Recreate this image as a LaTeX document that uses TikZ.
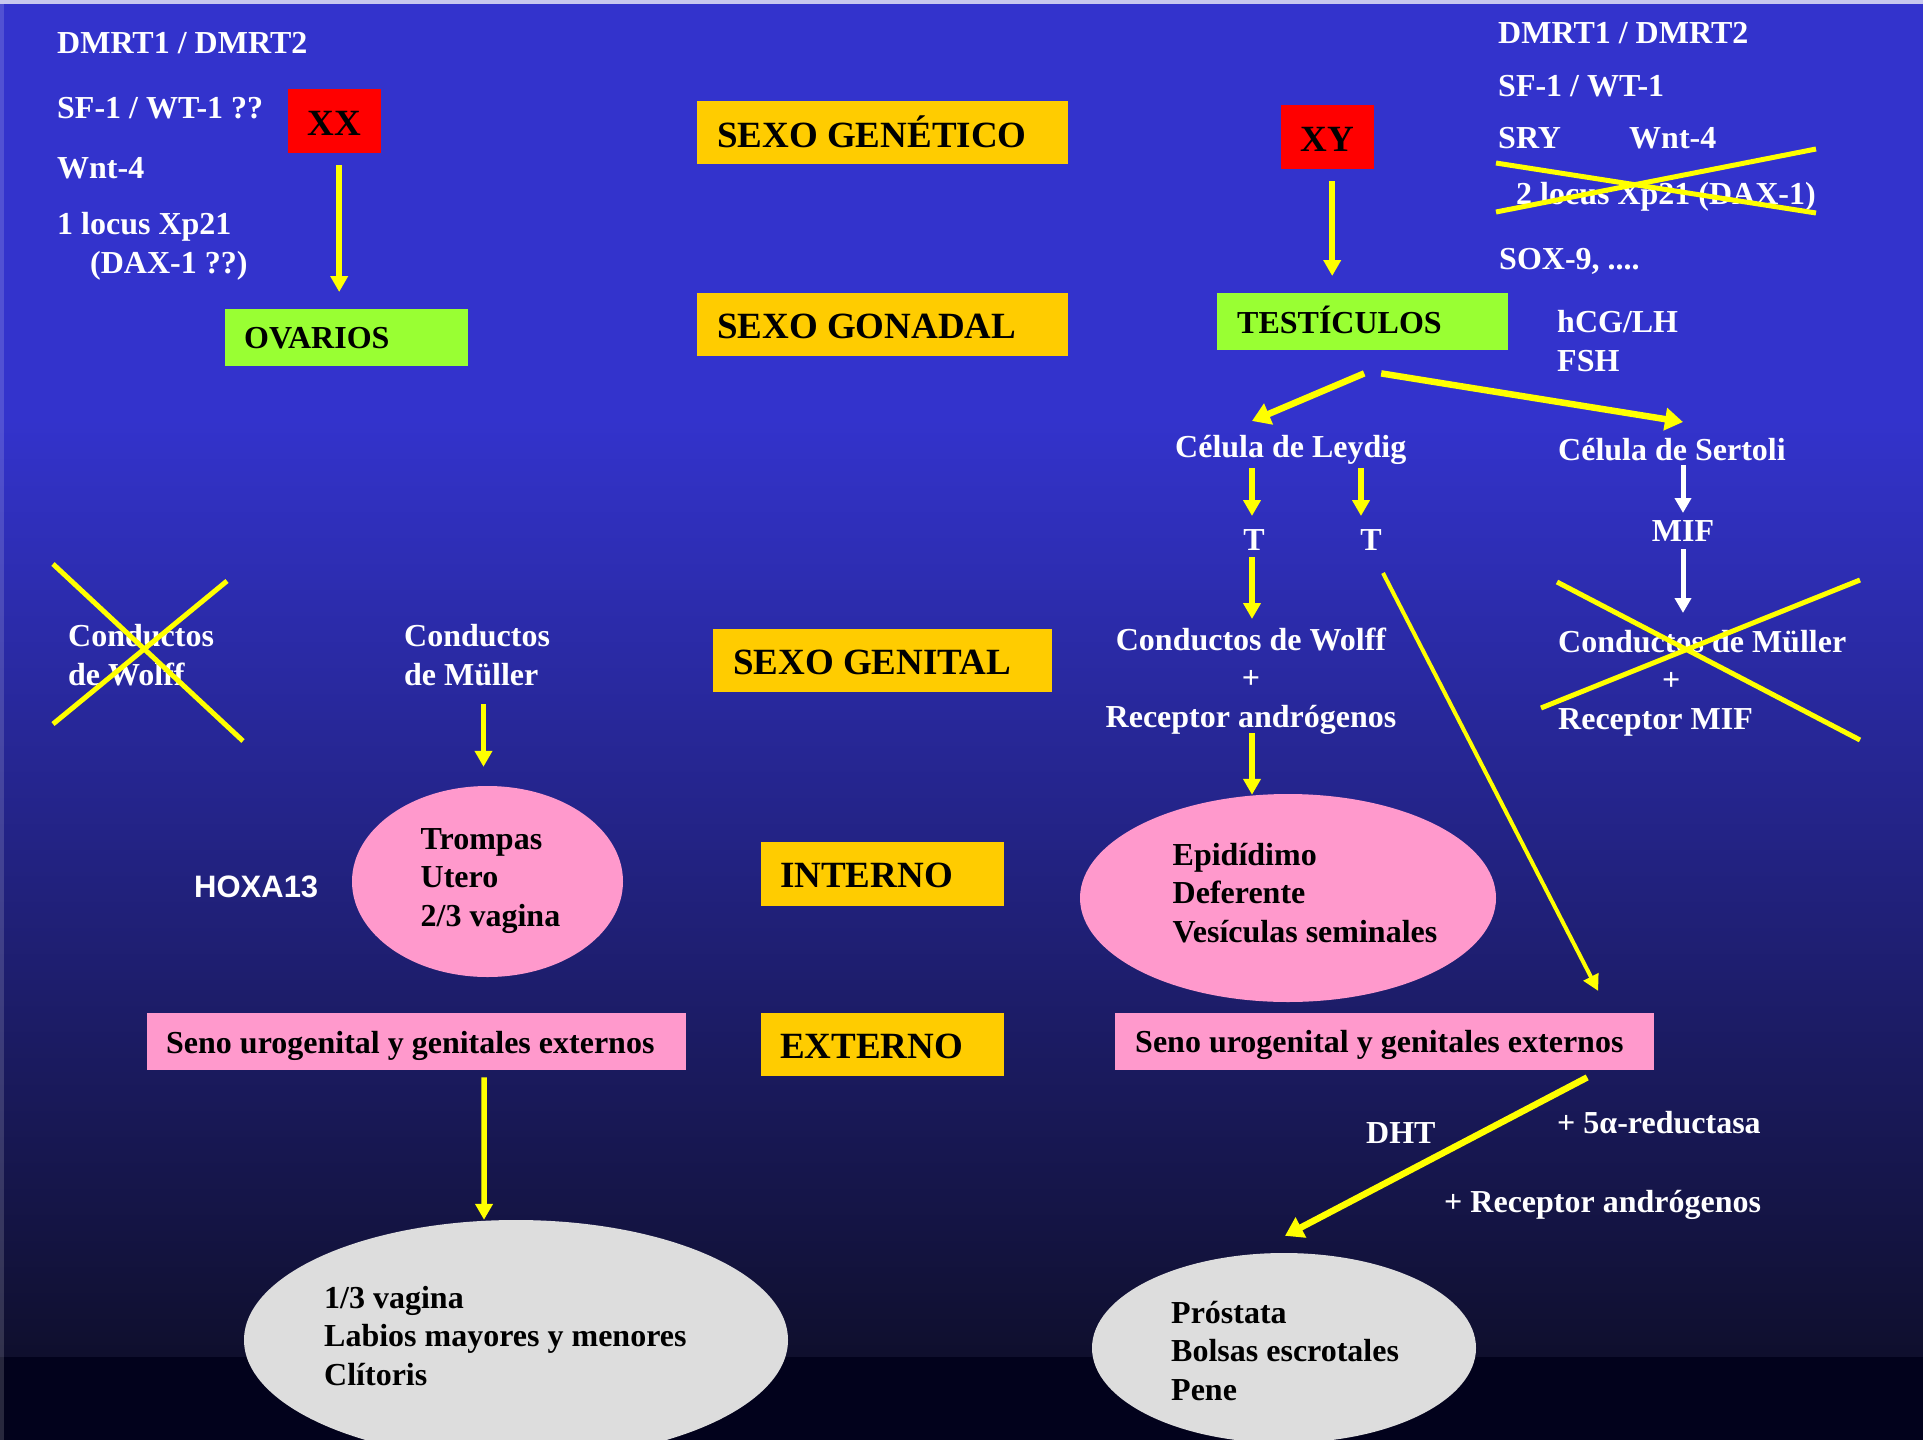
\documentclass[tikz,border=0pt]{standalone}
\usepackage{fontspec}
\setmainfont{Liberation Serif}
\newfontfamily\sansfont{Liberation Sans}
\usetikzlibrary{arrows.meta,shapes.geometric}
\definecolor{bgtop}{HTML}{3333CC}
\definecolor{bgmid}{HTML}{0F0F2D}
\definecolor{bgbot}{HTML}{02021C}
\definecolor{lav}{HTML}{C8C8EE}
\definecolor{ylw}{HTML}{FFCC00}
\definecolor{grn}{HTML}{99FF33}
\definecolor{pnk}{HTML}{FF99CC}
\definecolor{gry}{HTML}{DDDDDD}
\definecolor{arrowyellow}{HTML}{FFFF00}
\begin{document}
\begin{tikzpicture}[x=1pt,y=-1pt,
  bfont/.style={font=\fontsize{32}{38.5}\selectfont\bfseries},
  yfont/.style={font=\fontsize{37}{42}\selectfont\bfseries},
  tbox/.style n args={4}{anchor=north west, inner xsep=#1pt, inner ysep=0pt,
     text width=#2pt, text height=#3pt, text depth=#4pt, align=flush left, text=black},
  wt/.style={bfont, text=white, inner sep=0pt, anchor=base west},
  bt/.style={bfont, text=black, inner sep=0pt, anchor=base west},
  ell/.style={ellipse, inner sep=0pt, draw=none},
  arr/.style={draw=arrowyellow, line width=5.5pt, -{Triangle[width=17pt,length=16pt]}},
  arrthick/.style={draw=arrowyellow, line width=6.5pt, -{Triangle[width=22pt,length=18pt]}},
  arrthin/.style={draw=arrowyellow, line width=4pt, -{Triangle[width=16pt,length=16pt]}},
  warr/.style={draw=white, line width=5pt, -{Triangle[width=16pt,length=15pt]}},
  strike/.style={draw=arrowyellow, line width=5pt}]
\clip (0,0) rectangle (1923,1440);
% background
\fill[bgtop] (0,0) rectangle (1923,421);
\fill[top color=bgtop,bottom color=bgmid] (0,420) rectangle (1923,1357.5);
\fill[bgbot] (0,1357) rectangle (1923,1440);
\fill[lav] (0,0) rectangle (1923,4);
\fill[white,opacity=0.15] (0,4) rectangle (4,1440);

% boxes
\node[tbox={0}{93}{46}{18}, fill=red, align=center, yfont] (xx) at (288,89) {XX};
\node[tbox={19}{205}{39}{18}, fill=grn, bfont] (ovarios) at (225,309) {OVARIOS};
\node[tbox={20}{331}{46}{17}, fill=ylw, yfont] (genetico) at (697,101) {SEXO GENÉTICO};
\node[tbox={20}{331}{45}{18}, fill=ylw, yfont] (gonadal) at (697,293) {SEXO GONADAL};
\node[tbox={20}{299}{45}{18}, fill=ylw, yfont] (genital) at (713,629) {SEXO GENITAL};
\node[tbox={19}{205}{45}{19}, fill=ylw, yfont] (interno) at (761,842) {INTERNO};
\node[tbox={19}{205}{45}{18}, fill=ylw, yfont] (externo) at (761,1013) {EXTERNO};
\node[tbox={0}{93}{46}{18}, fill=red, align=center, yfont] (xy) at (1281,105) {XY};
\node[tbox={20}{251}{40}{17}, fill=grn, bfont] (testiculos) at (1217,293) {TESTÍCULOS};
\node[tbox={19}{501}{40}{17}, fill=pnk, bfont] (senoL) at (147,1013) {Seno urogenital y genitales externos};
\node[tbox={20}{499}{39}{18}, fill=pnk, bfont] (senoR) at (1115,1013) {Seno urogenital y genitales externos};

% ellipses
\node[ell, fill=pnk, minimum width=271pt, minimum height=191pt] (trompas) at (487.5,881.5) {};
\node[ell, fill=pnk, minimum width=416pt, minimum height=208pt] (epid) at (1288,898) {};
\node[ell, fill=gry, minimum width=544pt, minimum height=240pt] (greyL) at (516,1340) {};
\node[ell, fill=gry, minimum width=384pt, minimum height=190pt] (prost) at (1284,1348) {};
\node[bt, align=flush left] (trompasT) at (420.5,926) {Trompas\\Utero\\2/3 vagina};
\node[bt, align=flush left] (epidT) at (1172.5,942) {Epidídimo\\Deferente\\Vesículas seminales};
\node[bt, align=flush left] (greyLT) at (324,1385) {1/3 vagina\\Labios mayores y menores\\Clítoris};
\node[bt, align=flush left] (prostT) at (1171,1400) {Próstata\\Bolsas escrotales\\Pene};

% left gene texts
\node[wt] (gL1) at (57,53) {DMRT1 / DMRT2};
\node[wt] (gL2) at (57,118) {SF-1 / WT-1 ??};
\node[wt] (gL3) at (57,178) {Wnt-4};
\node[wt, align=flush left] (gL4) at (57,273) {1 locus Xp21\\\hspace*{33pt}(DAX-1 ??)};
% right gene texts
\node[wt] (gR1) at (1498,43) {DMRT1 / DMRT2};
\node[wt] (gR2) at (1498,96) {SF-1 / WT-1};
\node[wt] (gR3) at (1498,148) {SRY};
\node[wt] (gR4) at (1629,148) {Wnt-4};
\node[wt] (gR5) at (1516,204) {2 locus Xp21 (DAX-1)};
\node[wt] (gR6) at (1499,269) {SOX-9, ....};
\node[wt, align=flush left] (hcg) at (1557,371) {hCG/LH\\FSH};

% cells and hormones
\node[wt] (leydig) at (1175,457) {Célula de Leydig};
\node[wt] (sertoli) at (1558,460) {Célula de Sertoli};
\node[wt, anchor=base] (tL) at (1254,550) {T};
\node[wt, anchor=base] (tR) at (1371,550) {T};
\node[wt, anchor=base] (mif) at (1683,541) {MIF};
\node[wt, anchor=base, align=center] (wolffR) at (1251,727) {Conductos de Wolff\\+\\Receptor andrógenos};
\node[wt, align=flush left] (mullerR) at (1558,729) {Conductos de Müller\\\hspace*{104pt}+\\Receptor MIF};
\node[wt, align=flush left] (wolffL) at (68,685) {Conductos\\de Wolff};
\node[wt, align=flush left] (mullerL) at (404,685) {Conductos\\de Müller};
\node[wt, font=\fontsize{31}{36}\selectfont\sansfont\bfseries] (hoxa) at (194,897) {HOXA13};
\node[wt] (dht) at (1366,1143) {DHT};
\node[wt] (red5) at (1557,1133) {+ 5α-reductasa};
\node[wt] (recA) at (1444,1212) {+ Receptor andrógenos};

% connectors
\draw[arr] ([shift={(4.5,12)}]xx.south) -- ([shift={(-7.5,-17)}]ovarios.north);
\draw[arr] ([shift={(4.5,12)}]xy.south) -- ([shift={(-30.5,-17)}]testiculos.north);
\draw[arrthick] ([shift={(1.5,23)}]testiculos.south) -- ([shift={(77,-36)}]leydig.base west);
\draw[arrthick] ([shift={(18.5,23)}]testiculos.south) -- ([shift={(125,-38)}]sertoli.base west);
\draw[arr] ([shift={(77,11)}]leydig.base west) -- ([shift={(-2,-34)}]tL.base);
\draw[arr] ([shift={(186,11)}]leydig.base west) -- ([shift={(-10,-34)}]tR.base);
\draw[warr] ([shift={(125,5)}]sertoli.base west) -- ([shift={(0,-28)}]mif.base);
\draw[arr] ([shift={(-2,7)}]tL.base) -- ([shift={(1,-108)}]wolffR.base);
\draw[warr] ([shift={(0,8)}]mif.base) -- ([shift={(125,-116)}]mullerR.base west);
\draw[arr] ([shift={(1,6)}]wolffR.base) -- ([shift={(-36,1)}]epid.north);
\draw[arrthin] ([shift={(12,23)}]tR.base) -- ([shift={(213.5,-22)}]senoR.north);
\draw[arr] ([shift={(79.5,19)}]mullerL.base west) -- ([shift={(-4,-19)}]trompas.north);
\draw[arr] ([shift={(67.5,7)}]senoL.south) -- ([shift={(-32,0)}]greyL.north);
\draw[arrthick] ([shift={(202.5,7)}]senoR.south) -- ([shift={(1,-17)}]prost.north);

% strike-through crosses
\draw[strike] (1496,163) -- (1816,213);
\draw[strike] (1496,212) -- (1816,149);
\draw[strike] (53,564) -- (243,741);
\draw[strike] (53,724) -- (227,581);
\draw[strike] (1557,582) -- (1860,740);
\draw[strike] (1541,708) -- (1860,580);
\end{tikzpicture}
\end{document}
